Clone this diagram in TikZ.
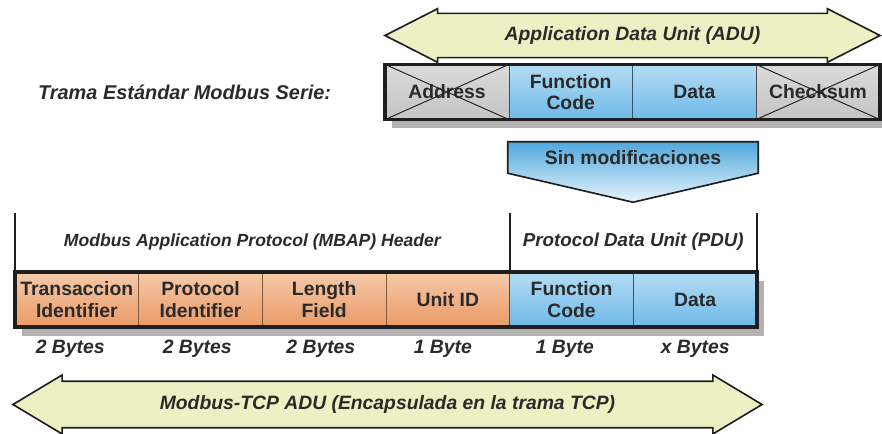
\documentclass[tikz,border=0pt]{standalone}
\usepackage{fontspec}
\setmainfont{Liberation Sans}
\usepackage{tikz}
\usetikzlibrary{positioning,fit,calc,shapes.arrows,backgrounds}
\definecolor{frameink}{HTML}{1E1E1E}
\definecolor{textink}{HTML}{2A2A2A}
\definecolor{peachtop}{HTML}{F5CAAA}
\definecolor{peachmid}{HTML}{FDF0E6}
\definecolor{peachlow}{HTML}{EA9A66}
\definecolor{skytop}{HTML}{B4DCF4}
\definecolor{skymid}{HTML}{F2FAFE}
\definecolor{skylow}{HTML}{6FB9E8}
\definecolor{greytop}{HTML}{DADADA}
\definecolor{greymid}{HTML}{F4F4F4}
\definecolor{greylow}{HTML}{C4C4C4}
\definecolor{creamedge}{HTML}{EFEFC4}
\definecolor{creammid}{HTML}{FDFDF0}
\definecolor{signaltop}{HTML}{4FA8DC}
\definecolor{signallow}{HTML}{E8F5FD}
\tikzset{
  cellbase/.style={
    minimum width=3.71cm,
    minimum height=1.65cm,
    inner sep=0pt,
    outer sep=0pt,
    align=center,
    text=textink,
    font=\fontsize{16.5}{18.5}\selectfont\bfseries
  },
  mbapcell/.style={
    cellbase,
    draw=peachlow!55!black,
    top color=peachtop,
    middle color=peachmid,
    bottom color=peachlow
  },
  pducell/.style={
    cellbase,
    draw=skylow!45!black,
    top color=skytop,
    middle color=skymid,
    bottom color=skylow
  },
  deadcell/.style={
    cellbase,
    draw=gray!60!black,
    top color=greytop,
    middle color=greymid,
    bottom color=greylow
  },
  frame/.style={
    draw=frameink,
    line width=3pt,
    inner sep=0pt
  },
  frameshadow/.style={
    fill=black,
    opacity=0.3,
    inner sep=0pt,
    xshift=0.2cm,
    yshift=-0.26cm
  },
  crossline/.style={
    draw=frameink,
    thick
  },
  spanline/.style={
    draw=frameink,
    line width=1.6pt
  },
  dblarrow/.style={
    double arrow,
    draw=frameink,
    line width=1.4pt,
    top color=creamedge,
    middle color=creammid,
    bottom color=creamedge,
    text=textink,
    font=\fontsize{16.5}{18}\selectfont\bfseries\itshape,
    text height=0.4cm,
    text depth=0.12cm,
    inner ysep=0.38cm,
    double arrow head indent=0pt
  },
  signalbox/.style={
    draw=frameink,
    line width=1.4pt,
    top color=signaltop,
    bottom color=signallow
  },
  hdrlabel/.style={
    text=textink,
    font=\fontsize{15}{17}\selectfont\bfseries\itshape
  },
  bytelabel/.style={
    text=textink,
    font=\fontsize{16.5}{18}\selectfont\bfseries\itshape
  }
}
\begin{document}
\begin{tikzpicture}[node distance=0.28cm and 0.2cm]
\useasboundingbox (0,0) rectangle (26.46,-13.02);

% trama serie
\node[deadcell] (addr) at (13.41,-2.76) {Address};
\node[pducell, right=0pt of addr] (fcode) {Function\\Code};
\node[pducell, right=0pt of fcode] (sdata) {Data};
\node[deadcell, right=0pt of sdata] (check) {Checksum};
\draw[crossline] (addr.north west) -- (addr.south east) (addr.south west) -- (addr.north east);
\draw[crossline] (check.north west) -- (check.south east) (check.south west) -- (check.north east);
\node[frame, fit=(addr)(check)] (serial) {};
\node[hdrlabel, font=\fontsize{17}{19}\selectfont\bfseries\itshape, left=1.5cm of addr] (trama) {Trama Estándar Modbus Serie:};
\node[dblarrow, minimum height=14.85cm, minimum width=1.59cm, double arrow head extend=0.14cm,
  double arrow tip angle=54] (adu) at (18.975,-1.065) {Application Data Unit (ADU)};

% sin modificaciones
\node[hdrlabel, font=\fontsize{16.5}{18}\selectfont\bfseries, minimum width=7.5cm, minimum height=0.93cm]
  (sinmod) at (18.99,-4.725) {Sin modificaciones};

% trama tcp
\node[mbapcell] (trans) at (2.305,-8.985) {Transaccion\\Identifier};
\node[mbapcell, right=0pt of trans] (proto) {Protocol\\Identifier};
\node[mbapcell, right=0pt of proto] (length) {Length\\Field};
\node[mbapcell, right=0pt of length] (unitid) {Unit ID};
\node[pducell, right=0pt of unitid] (tfcode) {Function\\Code};
\node[pducell, right=0pt of tfcode] (tdata) {Data};
\node[frame, fit=(trans)(tdata)] (tcp) {};

\draw[spanline] (trans.north west) -- ++(0,1.77);
\draw[spanline] (tfcode.north west) -- ++(0,1.77);
\draw[spanline] (tdata.north east) -- ++(0,1.77);
\node[hdrlabel] (mbap) at ($(trans.north west)!0.5!(unitid.north east)+(-0.3,0.9)$) {Modbus Application Protocol (MBAP) Header};
\node[hdrlabel, font=\fontsize{16}{18}\selectfont\bfseries\itshape] (pdu) at ($(tfcode.north west)!0.5!(tdata.north east)+(0,0.9)$) {Protocol Data Unit (PDU)};

\node[bytelabel, below=of trans, xshift=-0.2cm] (b1) {2 Bytes};
\node[bytelabel, below=of proto, xshift=-0.1cm] (b2) {2 Bytes};
\node[bytelabel, below=of length, xshift=-0.1cm] (b3) {2 Bytes};
\node[bytelabel, below=of unitid, xshift=-0.15cm] (b4) {1 Byte};
\node[bytelabel, below=of tfcode, xshift=-0.2cm] (b5) {1 Byte};
\node[bytelabel, below=of tdata] (b6) {x Bytes};

\node[dblarrow, minimum height=22.47cm, minimum width=1.77cm, double arrow head extend=0.18cm,
  double arrow tip angle=62] (tcpadu) at (11.625,-12.135) {Modbus-TCP ADU (Encapsulada en la trama TCP)};

\begin{scope}[on background layer]
\node[frameshadow, fit=(addr)(check)] {};
\node[frameshadow, fit=(trans)(tdata)] {};
\fill[black, opacity=0.3, xshift=0.15cm, yshift=-0.2cm] (sinmod.north west) -- (sinmod.north east) -- (sinmod.south east)
  -- ($(sinmod.south)+(0,-0.87)$) -- (sinmod.south west) -- cycle;
\draw[signalbox] (sinmod.north west) -- (sinmod.north east) -- (sinmod.south east)
  -- ($(sinmod.south)+(0,-0.87)$) -- (sinmod.south west) -- cycle;
\end{scope}
\end{tikzpicture}
\end{document}
